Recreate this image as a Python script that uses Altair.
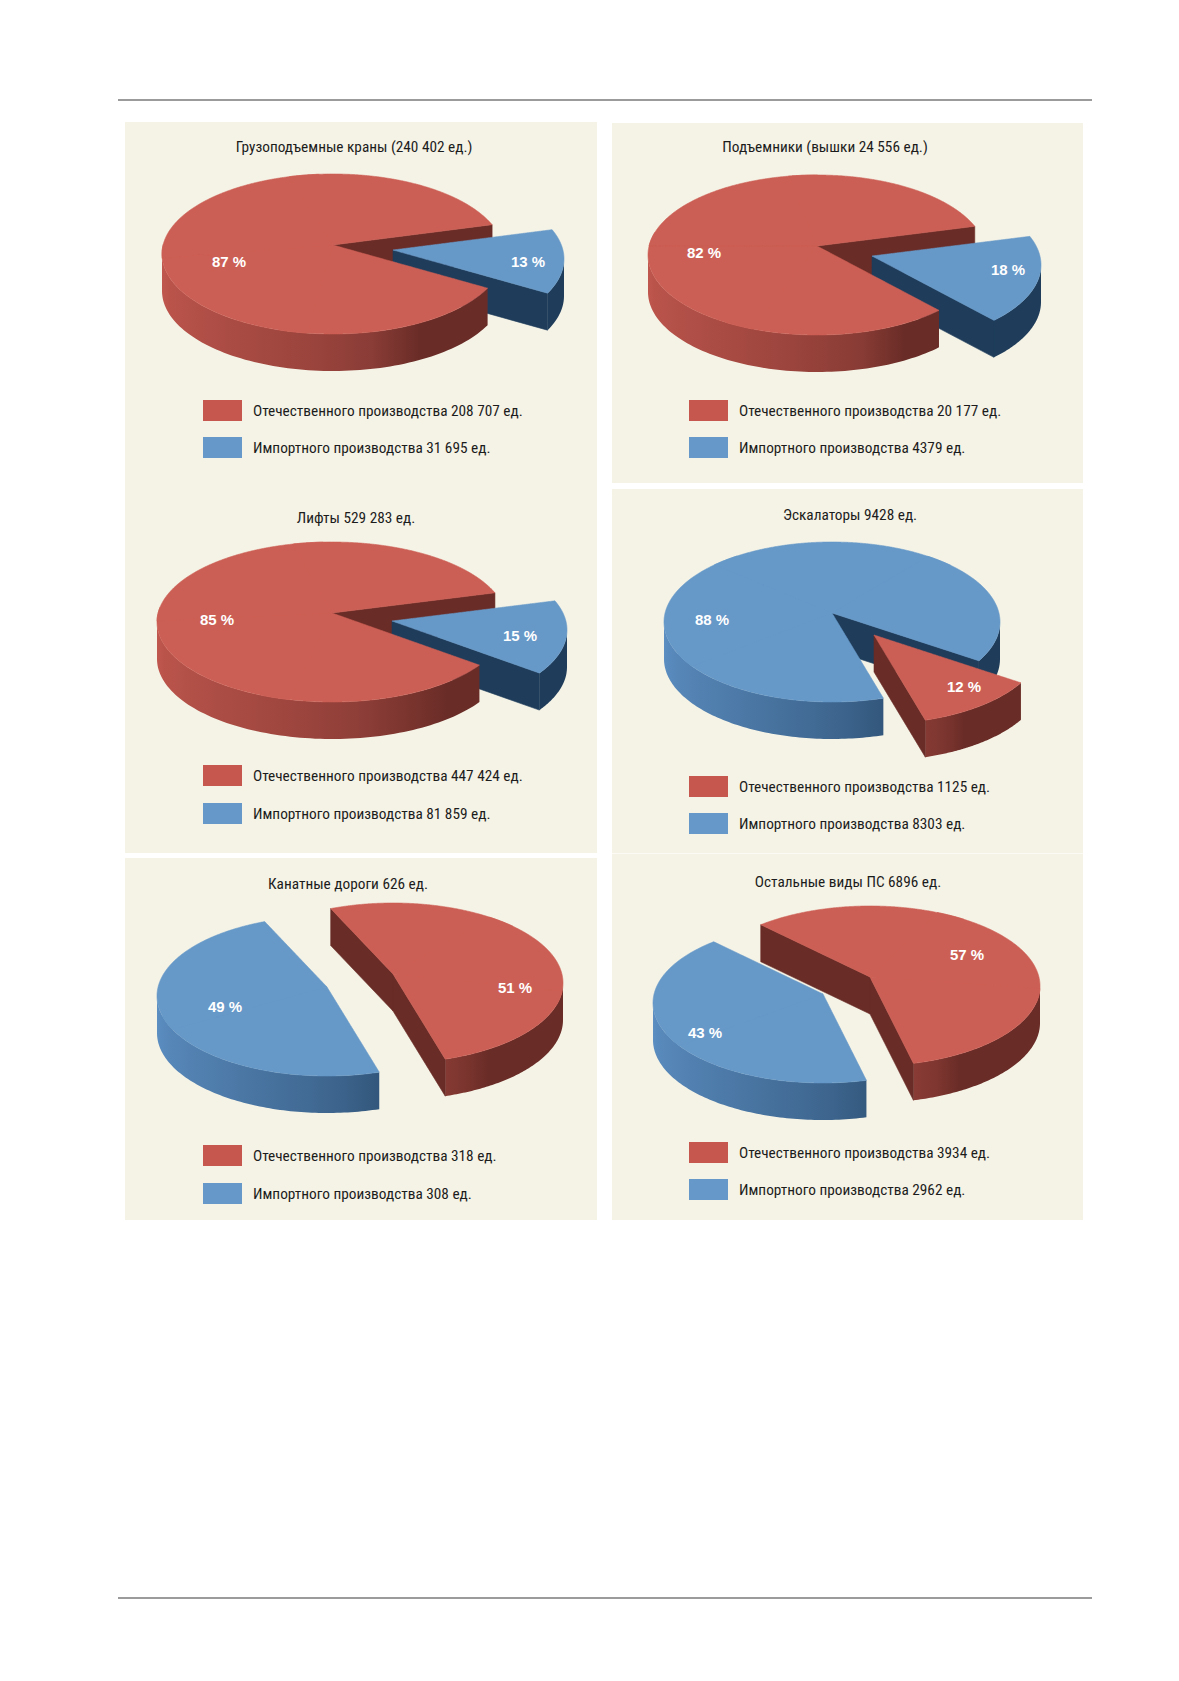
import math
import numpy as np
import pandas as pd
import altair as alt

# ------------------------------------------------------------------ data
titles = [
    "Грузоподъемные краны (240 402 ед.)",
    "Подъемники (вышки 24 556 ед.)",
    "Лифты 529 283 ед.",
    "Эскалаторы 9428 ед.",
    "Канатные дороги 626 ед.",
    "Остальные виды ПС 6896 ед.",
]
domestic_units = [208707, 20177, 447424, 1125, 318, 3934]
import_units = [31695, 4379, 81859, 8303, 308, 2962]
domestic_pct = [87, 82, 85, 12, 51, 57]
import_pct = [13, 18, 15, 88, 49, 43]
series_names = ["Отечественного производства", "Импортного производства"]


def fmt_units(n):
    s = f"{n:,}".replace(",", " ") if n >= 10000 else str(n)
    return s + " ед."


# ------------------------------------------------------------------ style / layout
W, H = 1163, 1620
OX, OY = 8, 8
XS = alt.Scale(domain=[OX, OX + W], zero=False, nice=False)
YS = alt.Scale(domain=[OY, OY + H], zero=False, nice=False, reverse=True)

BG = "#f5f3e6"
TEXT = "#1c1c1c"
NARROW = "Liberation Sans Narrow, Arial Narrow, Roboto Condensed, DejaVu Sans Condensed, sans-serif"
BOLD = "Liberation Sans, Arial, Helvetica, sans-serif"
FS = 15.3

COL = {
    "domestic": dict(top="#cc5f55", dark="#6a2c27", light="#c0574e", swatch="#c5574e"),
    "import": dict(top="#6698c8", dark="#1f3d5b", light="#5d8fc3", swatch="#6698c9"),
}

RY, DEPTH, K = 80, 37, 9

PANELS = [
    dict(c=(333, 254), rx=171, first="import", start=-21.5,
         explode={"import": (60, 5), "domestic": (0, 0)},
         title=(354, 147), pct={"domestic": (229, 262), "import": (528, 262)},
         legend=(203, 400, 37)),
    dict(c=(817, 255), rx=169, first="import", start=-21.0,
         explode={"import": (55, 10), "domestic": (0, 0)},
         title=(825, 147), pct={"domestic": (704, 253), "import": (1008, 270)},
         legend=(689, 400, 37)),
    dict(c=(332, 622), rx=175, first="import", start=-21.4,
         explode={"import": (60, 8), "domestic": (0, 0)},
         title=(356, 518), pct={"domestic": (217, 620), "import": (520, 636)},
         legend=(203, 765, 38)),
    dict(c=(832, 622), rx=168, first="domestic", start=29.0,
         explode={"domestic": (42, 22), "import": (0, 0)},
         title=(850, 515), pct={"import": (712, 620), "domestic": (964, 687)},
         legend=(689, 776, 37)),
    dict(c=(360, 989.5), rx=170, first="domestic", start=-111.5,
         explode={"domestic": (33, -6.5), "import": (-33, 6.5)},
         title=(348, 884), pct={"import": (225, 1007), "domestic": (515, 988)},
         legend=(203, 1145, 38)),
    dict(c=(844.5, 995.5), rx=170, first="domestic", start=-130.0,
         explode={"domestic": (25.5, -9.5), "import": (-21.5, 7.5)},
         title=(848, 882), pct={"domestic": (967, 955), "import": (705, 1033)},
         legend=(689, 1142, 37)),
]

BOXES = [(125, 597, 122, 853), (125, 597, 858, 1220), (612, 1083, 123, 483), (612, 1083, 489, 1220)]


# ------------------------------------------------------------------ helpers
def hex2rgb(h):
    h = h.lstrip("#")
    return [int(h[i:i + 2], 16) for i in (0, 2, 4)]


def mix(c1, c2, f):
    a, b = hex2rgb(c1), hex2rgb(c2)
    return "#%02x%02x%02x" % tuple(int(round(a[i] + (b[i] - a[i]) * f)) for i in range(3))


def wall_shade(t):
    f = min(max((t - 60.0) / 120.0, 0.0), 1.0)
    return f ** 0.5


def enc(chart):
    return chart.encode(
        x=alt.X("x:Q", scale=XS, axis=None),
        y=alt.Y("y:Q", scale=YS, axis=None),
        y2="y2:Q",
    )


def poly_to_area(px, py, nsamp=220):
    px = np.asarray(px, float)
    py = np.asarray(py, float)
    xs = np.unique(np.concatenate([px, np.linspace(px.min(), px.max(), nsamp)]))
    ax, ay = px, py
    bx, by = np.roll(px, -1), np.roll(py, -1)
    lo, hi = np.minimum(ax, bx), np.maximum(ax, bx)
    dx = bx - ax
    rows = []
    for x in xs:
        m = (x >= lo - 1e-9) & (x <= hi + 1e-9)
        nz = m & (np.abs(dx) > 1e-12)
        vz = m & (np.abs(dx) <= 1e-12)
        ys = np.concatenate([ay[nz] + (x - ax[nz]) * (by[nz] - ay[nz]) / dx[nz], ay[vz], by[vz]])
        if ys.size:
            rows.append((x, ys.min(), ys.max()))
    return pd.DataFrame(rows, columns=["x", "y", "y2"])


vertical_layers = []
top_layers = []

for i, p in enumerate(PANELS):
    cx, cy = p["c"]
    rx = p["rx"]
    pct = {"domestic": domestic_pct[i], "import": import_pct[i]}
    second = "domestic" if p["first"] == "import" else "import"
    a = p["start"]
    spans = []
    for key in (p["first"], second):
        span = pct[key] / 100.0 * 360.0
        spans.append((key, a, a + span))
        a += span

    faces = []
    for key, a0, a1 in spans:
        ex, ey = p["explode"][key]
        scx, scy = cx + ex, cy + ey
        apx, apy = scx, scy - K
        col = COL[key]

        # outer wall (front half only)
        for n in (-1, 0, 1):
            lo = max(a0, 360 * n)
            hi = min(a1, 180 + 360 * n)
            if hi - lo > 0.3:
                ts = np.linspace(lo, hi, 90)
                r = np.radians(ts)
                xw = scx + rx * np.cos(r)
                yw = scy + RY * np.sin(r)
                df = pd.DataFrame({"x": xw, "y": yw, "y2": yw + DEPTH}).sort_values("x")
                xmin, xmax = xw.min(), xw.max()
                stops = []
                for t in np.linspace(lo, hi, 10):
                    xt = scx + rx * math.cos(math.radians(t))
                    off = 0.0 if xmax - xmin < 1e-6 else (xt - xmin) / (xmax - xmin)
                    stops.append({"offset": float(min(max(off, 0), 1)),
                                  "color": mix(col["dark"], col["light"], wall_shade(t - 360 * n))})
                stops.sort(key=lambda s: s["offset"])
                grad = {"gradient": "linear", "x1": 0, "y1": 0, "x2": 1, "y2": 0, "stops": stops}
                faces.append((float(yw.max()),
                              enc(alt.Chart(df).mark_area(orient="vertical", fill=grad))))

        # radial cut faces
        for ang, normal in ((a0, a0 - 90), (a1, a1 + 90)):
            if math.sin(math.radians(normal)) > 0.02:
                rxp = scx + rx * math.cos(math.radians(ang))
                ryp = scy + RY * math.sin(math.radians(ang))
                if abs(rxp - apx) < 0.5:
                    continue
                df = pd.DataFrame({"x": [apx, rxp], "y": [apy, ryp],
                                   "y2": [apy + DEPTH, ryp + DEPTH]}).sort_values("x")
                faces.append((max(apy, ryp),
                              enc(alt.Chart(df).mark_area(orient="vertical", fill=col["dark"],
                                                          stroke=col["dark"], strokeWidth=0.6))))

        # top face, split into overlapping convex pieces (overlap hides seams)
        npieces = int(math.ceil((a1 - a0) / 90.0))
        edges = np.linspace(a0, a1, npieces + 1)
        for e0, e1 in zip(edges[:-1], edges[1:]):
            e0o, e1o = max(a0, e0 - 5), min(a1, e1 + 5)
            ts = np.linspace(e0o, e1o, max(10, int(abs(e1o - e0o) * 1.5)))
            r = np.radians(ts)
            px = np.concatenate([[apx], scx + rx * np.cos(r)])
            py = np.concatenate([[apy], scy + RY * np.sin(r)])
            df = poly_to_area(px, py)
            top_layers.append(enc(alt.Chart(df).mark_area(orient="vertical", fill=col["top"],
                                                          stroke=col["top"], strokeWidth=0.6)))

    faces.sort(key=lambda f: f[0])
    vertical_layers.extend(f[1] for f in faces)

# ------------------------------------------------------------------ frame, texts
box_df = pd.DataFrame(BOXES, columns=["x", "x2", "y", "y2"])
boxes = alt.Chart(box_df).mark_rect(fill=BG).encode(
    x=alt.X("x:Q", scale=XS, axis=None), x2="x2:Q",
    y=alt.Y("y:Q", scale=YS, axis=None), y2="y2:Q")

faint = alt.Chart(pd.DataFrame({"x": [612], "x2": [1083], "y": [853.5]})).mark_rule(
    color="#fbfaf4", strokeWidth=1).encode(
    x=alt.X("x:Q", scale=XS, axis=None), x2="x2:Q", y=alt.Y("y:Q", scale=YS, axis=None))

rules = alt.Chart(pd.DataFrame({"x": [118, 118], "x2": [1092, 1092], "y": [100, 1598]})).mark_rule(
    color="#7a7a7a", strokeWidth=1.6).encode(
    x=alt.X("x:Q", scale=XS, axis=None), x2="x2:Q", y=alt.Y("y:Q", scale=YS, axis=None))

title_df = pd.DataFrame({"x": [p["title"][0] for p in PANELS],
                         "y": [p["title"][1] for p in PANELS],
                         "text": titles})
title_layer = alt.Chart(title_df).mark_text(
    font=NARROW, fontSize=FS, color=TEXT, align="center", baseline="middle").encode(
    x=alt.X("x:Q", scale=XS, axis=None), y=alt.Y("y:Q", scale=YS, axis=None), text="text:N")

sw_rows, lg_rows, pct_rows = [], [], []
for i, p in enumerate(PANELS):
    lx, ly, step = p["legend"]
    for j, (key, units) in enumerate((("domestic", domestic_units[i]), ("import", import_units[i]))):
        y0 = ly + j * step
        sw_rows.append({"x": lx, "x2": lx + 39, "y": y0, "y2": y0 + 21, "c": COL[key]["swatch"]})
        lg_rows.append({"x": lx + 50, "y": y0 + 11, "text": f"{series_names[j]} {fmt_units(units)}"})
    for key, val in (("domestic", domestic_pct[i]), ("import", import_pct[i])):
        px, py = p["pct"][key]
        pct_rows.append({"x": px, "y": py, "text": f"{val} %"})

swatches = alt.Chart(pd.DataFrame(sw_rows)).mark_rect().encode(
    x=alt.X("x:Q", scale=XS, axis=None), x2="x2:Q",
    y=alt.Y("y:Q", scale=YS, axis=None), y2="y2:Q",
    fill=alt.Fill("c:N", scale=None))

legend_text = alt.Chart(pd.DataFrame(lg_rows)).mark_text(
    font=NARROW, fontSize=FS, color=TEXT, align="left", baseline="middle").encode(
    x=alt.X("x:Q", scale=XS, axis=None), y=alt.Y("y:Q", scale=YS, axis=None), text="text:N")

pct_text = alt.Chart(pd.DataFrame(pct_rows)).mark_text(
    font=BOLD, fontSize=15, fontWeight="bold", color="white", align="center", baseline="middle").encode(
    x=alt.X("x:Q", scale=XS, axis=None), y=alt.Y("y:Q", scale=YS, axis=None), text="text:N")

chart = alt.layer(
    boxes, faint, rules, *vertical_layers, *top_layers,
    title_layer, swatches, legend_text, pct_text,
).properties(
    width=W, height=H, padding=0, autosize="none", background="white"
).configure_view(stroke=None)

chart.save("out.html", embed_options={"renderer": "svg", "actions": False})
